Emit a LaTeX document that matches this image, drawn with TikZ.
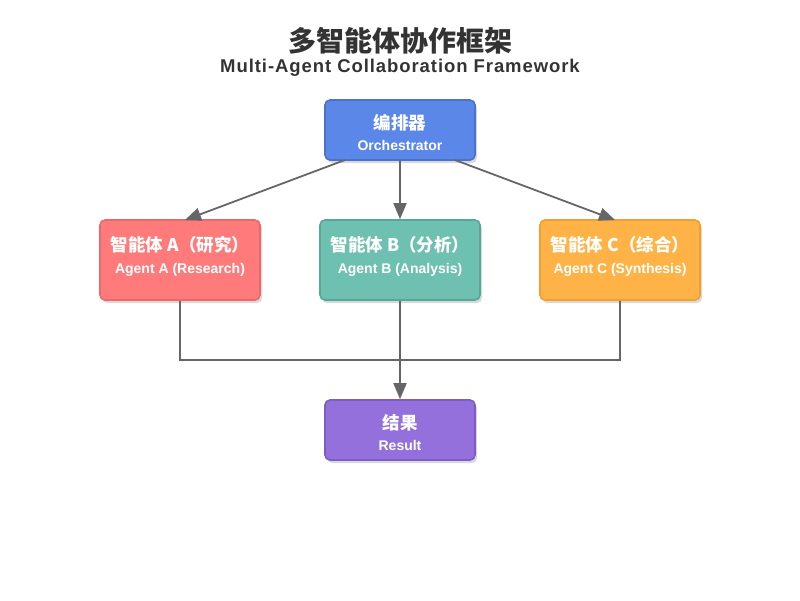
\documentclass[tikz,border=0pt]{standalone}
\usepackage{fontspec}
\setmainfont{Liberation Sans}
\newfontfamily\cjk{Noto Sans CJK SC}
\newfontfamily\subfont[LetterSpace=5]{Liberation Sans}
\usetikzlibrary{arrows.meta,shadows}
\definecolor{orch}{HTML}{5B87E8}
\definecolor{orchb}{HTML}{4A72C9}
\definecolor{agA}{HTML}{FF7B7B}
\definecolor{agAb}{HTML}{E86A6A}
\definecolor{agB}{HTML}{6EC0B0}
\definecolor{agBb}{HTML}{58A898}
\definecolor{agC}{HTML}{FFB347}
\definecolor{agCb}{HTML}{F0A030}
\definecolor{res}{HTML}{9370DB}
\definecolor{resb}{HTML}{7E5CC4}
\definecolor{lin}{HTML}{666666}
\definecolor{ttl}{HTML}{333333}
\tikzset{
  boxstyle/.style={draw, line width=1.6pt, rounded corners=5pt, inner sep=0pt,
    drop shadow={shadow xshift=2pt, shadow yshift=-3pt, opacity=0.15, fill=black}},
  cnline/.style={text=white, font=\cjk\bfseries\fontsize{17.5}{20}\selectfont},
  enline/.style={text=white, font=\bfseries\fontsize{14}{16}\selectfont},
  conn/.style={draw=lin, line width=1.8pt},
  arr/.style={conn, -{Triangle[length=16pt, width=13pt]}},
}
\begin{document}
\begin{tikzpicture}[x=1pt, y=-1pt]
\useasboundingbox (0,0) rectangle (800,600);
% title
\node[text=ttl, font=\cjk\bfseries\fontsize{28}{31}\selectfont] (title) at (400,41) {多智能体协作框架};
\node[text=ttl, font=\subfont\bfseries\fontsize{18.5}{22}\selectfont] (subtitle) at (400,68) {Multi-Agent Collaboration Framework};
% boxes
\node[boxstyle, fill=orch, draw=orchb, minimum width=150pt, minimum height=60pt] (orch) at (400,130) {};
\node[boxstyle, fill=agA, draw=agAb, minimum width=160pt, minimum height=80pt] (a) at (180,260) {};
\node[boxstyle, fill=agB, draw=agBb, minimum width=160pt, minimum height=80pt] (b) at (400,260) {};
\node[boxstyle, fill=agC, draw=agCb, minimum width=160pt, minimum height=80pt] (c) at (620,260) {};
\node[boxstyle, fill=res, draw=resb, minimum width=150pt, minimum height=60pt] (r) at (400,430) {};
% texts
\node[cnline] (orchcn) at (400,123) {编排器};
\node[enline] (orchen) at (400,145) {Orchestrator};
\node[cnline] (acn) at (180,245) {智能体 A（研究）};
\node[enline] (aen) at (180,270) {Agent A (Research)};
\node[cnline] (bcn) at (400,245) {智能体 B（分析）};
\node[enline] (ben) at (400,270) {Agent B (Analysis)};
\node[cnline] (ccn) at (620,245) {智能体 C（综合）};
\node[enline] (cen) at (620,270) {Agent C (Synthesis)};
\node[cnline] (rcn) at (400,423) {结果};
\node[enline] (ren) at (400,445) {Result};
% connectors
\coordinate (o1) at (345,160);
\coordinate (o3) at (455,160);
\coordinate (aTop) at (185,220);
\coordinate (cTop) at (615,220);
\draw[arr] (o1) -- (aTop);
\draw[arr] (orch.south) -- (b.north);
\draw[arr] (o3) -- (cTop);
\coordinate (jA) at (180,360);
\coordinate (jC) at (620,360);
\draw[conn] (a.south) -- (jA) -- (jC) -- (c.south);
\draw[arr] (b.south) -- (r.north);
\end{tikzpicture}
\end{document}
